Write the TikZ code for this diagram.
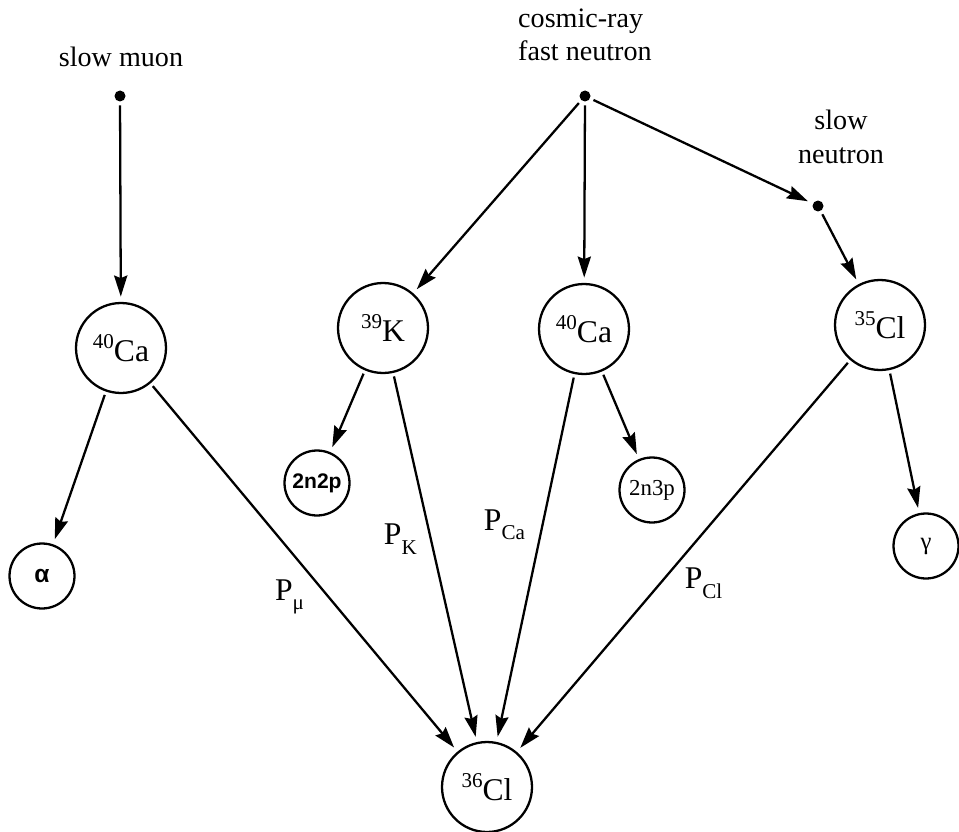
\documentclass[tikz,border=0pt]{standalone}
\usepackage{fontspec}
\setmainfont{Liberation Serif}
\setsansfont{Liberation Sans}
\usetikzlibrary{arrows.meta}

\newcommand{\isot}[2]{\raisebox{0.42em}{\fontsize{12}{12}\selectfont #1}#2}
\newcommand{\psub}[1]{P\raisebox{-0.3em}{\fontsize{12}{12}\selectfont #1}}

\begin{document}
\begin{tikzpicture}[x=0.02cm, y=-0.02cm, >={Stealth[length=12pt, width=7.5pt, inset=1.5pt]},
  every node/.style={font=\fontsize{16}{19}\selectfont},
  nuc/.style={draw, circle, line width=1.3pt, inner sep=0pt, minimum size=1.8cm, font=\fontsize{18}{20}\selectfont},
  frag/.style={draw, circle, line width=1.3pt, inner sep=0pt, minimum size=1.3cm, font=\fontsize{13}{14}\selectfont},
  src/.style={circle, fill, inner sep=0pt, minimum size=0.22cm},
  flow/.style={->, line width=1.3pt, shorten <=2pt, shorten >=3pt},
  prob/.style={font=\fontsize{18}{20}\selectfont}]
  \useasboundingbox (0,0) rectangle (959,831);
  % sources
  \node (muonlbl) at (121,57) {slow muon};
  \node[src] (muon) at (120,96) {};
  \node[align=left, anchor=west] (fastlbl) at (512,35) {cosmic-ray\\fast neutron};
  \node[src] (fast) at (585,96) {};
  \node[align=center] (slowlbl) at (841,137) {slow\\neutron};
  \node[src] (slow) at (818,206) {};
  % target nuclei
  \node[nuc] (caL) at (121,348) {\isot{40}{Ca}};
  \node[nuc] (kay) at (383,328) {\isot{39}{K}};
  \node[nuc] (caM) at (584,329) {\isot{40}{Ca}};
  \node[nuc] (clA) at (880,325) {\isot{35}{Cl}};
  \node[nuc] (clB) at (487,787) {\isot{36}{Cl}};
  % emitted particles
  \node[frag, font=\fontsize{14}{14}\selectfont\sffamily\bfseries] (alpha) at (42,576) {α};
  \node[frag, font=\fontsize{12}{14}\selectfont\sffamily\bfseries] (nnpp) at (317,483) {2n2p};
  \node[frag] (nnnp) at (652,490) {2n3p};
  \node[frag, font=\fontsize{14}{14}\selectfont] (gam) at (926,546) {γ};
  % reactions
  \draw[flow] (muon) -- (caL);
  \draw[flow] (fast) -- (kay);
  \draw[flow] (fast) -- (caM);
  \draw[flow] (fast) -- (slow);
  \draw[flow] (slow) -- (clA);
  \draw[flow] (caL) -- (alpha);
  \draw[flow] (kay) -- (nnpp);
  \draw[flow] (caM) -- (nnnp);
  \draw[flow] (clA) -- (gam);
  \draw[flow] (caL) -- (clB) node[prob, pos=0.58, left=10pt] {\psub{μ}};
  \draw[flow] (kay) -- (clB) node[prob, pos=0.45, left=4pt] {\psub{K}};
  \draw[flow] (caM) -- (clB) node[prob, pos=0.41, left=6pt] {\psub{Ca}};
  \draw[flow] (clA) -- (clB) node[prob, pos=0.57, right=10pt] {\psub{Cl}};
\end{tikzpicture}
\end{document}
